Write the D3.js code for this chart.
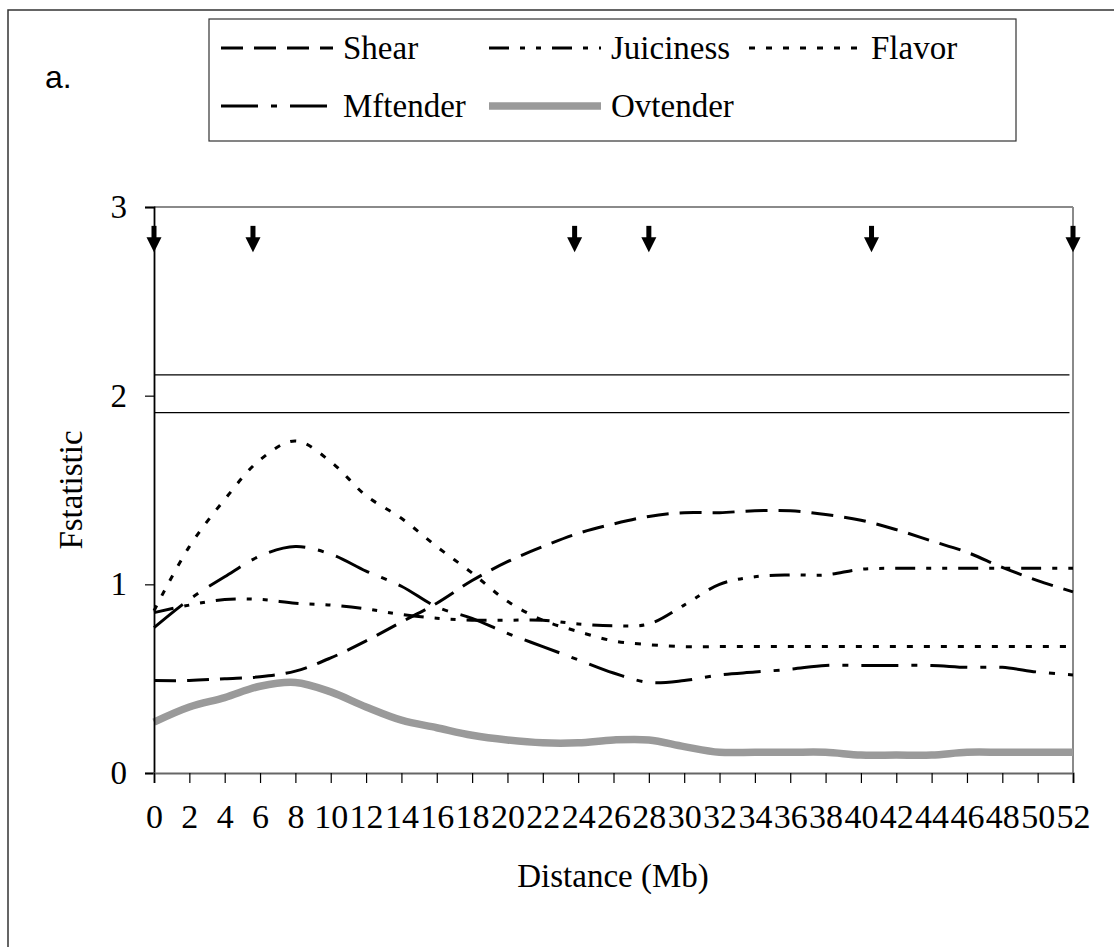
<!DOCTYPE html>
<html>
<head>
<meta charset="utf-8">
<script src="https://cdn.jsdelivr.net/npm/d3@7"></script>
<style>
  html, body { margin: 0; padding: 0; background: #fff; }
  svg { display: block; }
  text { font-family: "Liberation Serif", "Times New Roman", serif; fill: #000; }
</style>
</head>
<body>
<div id="chart"></div>
<script>
// ---------- data ----------
const distance = [0,2,4,6,8,10,12,14,16,18,20,22,24,26,28,30,32,34,36,38,40,42,44,46,48,50,52];
const xTickLabels = ["0","2","4","6","8","10","12","14","16","18","20","22","24","26","28","30","32","34","36","38","40","42","44","46","48","50","52"];
const yTickLabels = [0, 1, 2, 3];

const shear     = [0.49,0.49,0.50,0.51,0.54,0.61,0.70,0.80,0.90,1.02,1.12,1.20,1.27,1.32,1.36,1.38,1.38,1.39,1.39,1.37,1.34,1.29,1.23,1.17,1.09,1.02,0.96];
const juiciness = [0.85,0.89,0.92,0.92,0.90,0.89,0.87,0.84,0.82,0.81,0.81,0.81,0.79,0.78,0.79,0.89,1.00,1.04,1.05,1.05,1.08,1.085,1.085,1.085,1.085,1.085,1.085];
const flavor    = [0.86,1.20,1.45,1.66,1.76,1.65,1.47,1.35,1.20,1.06,0.91,0.81,0.75,0.70,0.68,0.67,0.67,0.67,0.67,0.67,0.67,0.67,0.67,0.67,0.67,0.67,0.67];
const mftender  = [0.77,0.92,1.04,1.15,1.20,1.16,1.07,0.99,0.88,0.82,0.74,0.67,0.60,0.53,0.48,0.49,0.52,0.535,0.55,0.57,0.57,0.57,0.57,0.56,0.56,0.535,0.52];
const ovtender  = [0.27,0.35,0.40,0.46,0.48,0.43,0.35,0.28,0.24,0.20,0.175,0.16,0.16,0.175,0.175,0.14,0.11,0.11,0.11,0.11,0.095,0.095,0.095,0.11,0.11,0.11,0.11];

const thresholds = [2.11, 1.91];
const arrowPositions = [0, 5.6, 23.8, 28.0, 40.6, 52];

const seriesNames = ["Shear","Juiciness","Flavor","Mftender","Ovtender"];
const seriesValues = [shear, juiciness, flavor, mftender, ovtender];

// ---------- styles ----------
const styles = {
  Shear:     { stroke: "#000", width: 3, dash: "22,11" },
  Juiciness: { stroke: "#000", width: 3, dash: "20,11,5,11,5,11" },
  Flavor:    { stroke: "#000", width: 3, dash: "6,11" },
  Mftender:  { stroke: "#000", width: 3, dash: "37,13,6,13" },
  Ovtender:  { stroke: "#9a9a9a", width: 7.5, dash: null }
};

const W = 1114, H = 947;
const svg = d3.select("#chart").append("svg").attr("width", W).attr("height", H);

// outer frame
svg.append("rect").attr("x", 8).attr("y", 10).attr("width", 1200).attr("height", 1000)
  .attr("fill", "none").attr("stroke", "#333").attr("stroke-width", 1.5);

// label a.
svg.append("text").attr("x", 45).attr("y", 88)
  .style("font-family", "'Liberation Sans', Arial, sans-serif").style("font-size", "32px").text("a.");

// scales
const x = d3.scaleLinear().domain([0, 52]).range([154, 1073]);
const y = d3.scaleLinear().domain([0, 3]).range([773, 207]);

// plot border: top & right gray
svg.append("line").attr("x1", x(0)).attr("x2", x(52)).attr("y1", y(3)).attr("y2", y(3))
  .attr("stroke", "#8a8a8a").attr("stroke-width", 2);
svg.append("line").attr("x1", x(52)).attr("x2", x(52)).attr("y1", y(3)).attr("y2", y(0))
  .attr("stroke", "#8a8a8a").attr("stroke-width", 2);

// threshold lines
svg.selectAll(".thr").data(thresholds).enter().append("line")
  .attr("x1", x(0)).attr("x2", x(51.8))
  .attr("y1", d => y(d)).attr("y2", d => y(d))
  .attr("stroke", "#000").attr("stroke-width", 1.2);

// series
const line = d3.line()
  .x((d, i) => x(distance[i]))
  .y(d => y(d))
  .curve(d3.curveCatmullRom.alpha(0.5));

seriesNames.forEach((name, k) => {
  const s = styles[name];
  const p = svg.append("path").datum(seriesValues[k])
    .attr("d", line)
    .attr("fill", "none")
    .attr("stroke", s.stroke)
    .attr("stroke-width", s.width)
    .attr("stroke-linejoin", "round");
  if (s.dash) p.attr("stroke-dasharray", s.dash);
});

// y axis
const yAxis = d3.axisLeft(y).tickValues(yTickLabels).tickSize(9).tickPadding(18)
  .tickFormat(d3.format("d"));
const gy = svg.append("g").attr("transform", `translate(${x(0)},0)`).call(yAxis);
gy.select(".domain").attr("stroke", "#000").attr("stroke-width", 1.8);
gy.selectAll(".tick line").attr("stroke", "#000").attr("stroke-width", 1.2);
gy.selectAll(".tick text").style("font-family", "'Liberation Serif', serif").style("font-size", "33px");

// x axis
const xAxis = d3.axisBottom(x).tickValues(distance).tickSize(10).tickPadding(21)
  .tickFormat((d, i) => xTickLabels[i]);
const gx = svg.append("g").attr("transform", `translate(0,${y(0)})`).call(xAxis);
gx.select(".domain").attr("stroke", "#666").attr("stroke-width", 2.2);
gx.selectAll(".tick line").attr("stroke", "#000").attr("stroke-width", 1.2);
gx.selectAll(".tick text").style("font-family", "'Liberation Serif', serif").style("font-size", "34px");

// arrows
const arrowTop = 2.9, arrowNeck = 2.84, arrowTip = 2.76;
const arrows = svg.append("g");
arrowPositions.forEach(p => {
  const cx = x(p);
  arrows.append("rect").attr("x", cx - 2.5).attr("y", y(arrowTop)).attr("width", 5)
    .attr("height", y(arrowNeck) - y(arrowTop) + 1).attr("fill", "#000");
  arrows.append("path")
    .attr("d", `M${cx - 7.5},${y(arrowNeck)} L${cx + 7.5},${y(arrowNeck)} L${cx},${y(arrowTip)} Z`)
    .attr("fill", "#000");
});

// axis titles
svg.append("text").attr("transform", `translate(82,490) rotate(-90)`)
  .attr("text-anchor", "middle").style("font-size", "33px").text("Fstatistic");
svg.append("text").attr("x", 613).attr("y", 887)
  .attr("text-anchor", "middle").style("font-size", "33px").text("Distance (Mb)");

// legend
const legend = svg.append("g");
legend.append("rect").attr("x", 209).attr("y", 19).attr("width", 807).attr("height", 122)
  .attr("fill", "#fff").attr("stroke", "#333").attr("stroke-width", 1.2);
const colX = [221, 489, 749];
const rowY = [48, 106];
seriesNames.forEach((name, k) => {
  const col = k % 3, row = Math.floor(k / 3);
  const lx = colX[col], ly = rowY[row];
  const s = styles[name];
  const sl = legend.append("line").attr("x1", lx).attr("x2", lx + 112).attr("y1", ly).attr("y2", ly)
    .attr("stroke", s.stroke).attr("stroke-width", s.width);
  if (s.dash) sl.attr("stroke-dasharray", s.dash);
  legend.append("text").attr("x", lx + 122).attr("y", ly + 11)
    .style("font-size", "33px").text(name);
});
</script>
</body>
</html>
